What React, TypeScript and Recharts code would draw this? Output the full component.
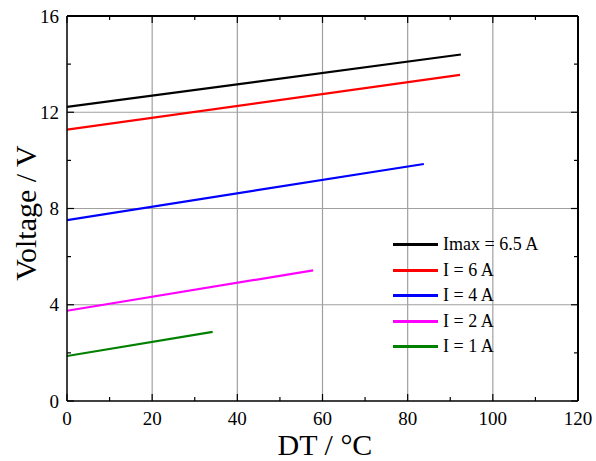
import { LineChart, Line, XAxis, YAxis, ReferenceLine } from "recharts";

const FONT = '"Liberation Serif", "Times New Roman", serif';

// DT (°C) and voltage endpoints per current
const seriesNames = ["Imax = 6.5 A", "I = 6 A", "I = 4 A", "I = 2 A", "I = 1 A"];
const seriesColors = ["#000000", "#ff0000", "#0000ff", "#ff00ff", "#008000"];
const dtImax = [0, 92.5];
const vImax = [12.22, 14.4];
const dtI6 = [0, 92.3];
const vI6 = [11.28, 13.55];
const dtI4 = [0, 83.8];
const vI4 = [7.52, 9.85];
const dtI2 = [0, 57.8];
const vI2 = [3.75, 5.43];
const dtI1 = [0, 34.2];
const vI1 = [1.87, 2.87];

const xTicks = [0, 10, 20, 30, 40, 50, 60, 70, 80, 90, 100, 110, 120];
const xMajor = [0, 20, 40, 60, 80, 100, 120];
const yTicks = [0, 2, 4, 6, 8, 10, 12, 14, 16];
const yMajor = [0, 4, 8, 12, 16];
const xGrid = [20, 40, 60, 80, 100];
const yGrid = [4, 8, 12];
const xMax = 120;
const yMax = 16;

const toPoints = (xs: number[], ys: number[]) => xs.map((x, i) => ({ dt: x, v: ys[i] }));
const series = [
  toPoints(dtImax, vImax),
  toPoints(dtI6, vI6),
  toPoints(dtI4, vI4),
  toPoints(dtI2, vI2),
  toPoints(dtI1, vI1),
];

const BottomTick = ({ x, y, payload }: any) => {
  const major = xMajor.includes(payload.value);
  return (
    <g>
      <line x1={x} x2={x} y1={y} y2={y - (major ? 7 : 4)} stroke="#000" strokeWidth={1.2} />
      {major && (
        <text x={x} y={y + 24} textAnchor="middle" fontSize={19} fontFamily={FONT} fill="#000">
          {payload.value}
        </text>
      )}
    </g>
  );
};

const TopTick = ({ x, y, payload }: any) => {
  const major = xMajor.includes(payload.value);
  return <line x1={x} x2={x} y1={y} y2={y + (major ? 7 : 4)} stroke="#000" strokeWidth={1.2} />;
};

const LeftTick = ({ x, y, payload }: any) => {
  const major = yMajor.includes(payload.value);
  return (
    <g>
      <line x1={x} x2={x + (major ? 7 : 4)} y1={y} y2={y} stroke="#000" strokeWidth={1.2} />
      {major && (
        <text x={x - 8} y={y} dy="0.35em" textAnchor="end" fontSize={19} fontFamily={FONT} fill="#000">
          {payload.value}
        </text>
      )}
    </g>
  );
};

const RightTick = ({ x, y, payload }: any) => {
  const major = yMajor.includes(payload.value);
  return <line x1={x} x2={x - (major ? 7 : 4)} y1={y} y2={y} stroke="#000" strokeWidth={1.2} />;
};

const LegendBox = () => (
  <div style={{ position: "absolute", left: 393, top: 232, fontFamily: FONT, fontSize: 18, color: "#000" }}>
    {seriesNames.map((name, i) => (
      <div key={name} style={{ display: "flex", alignItems: "center", height: 25.5, whiteSpace: "nowrap" }}>
        <span style={{ display: "inline-block", width: 45, height: 3, background: seriesColors[i], marginRight: 5 }} />
        <span>{name}</span>
      </div>
    ))}
  </div>
);

export default function App() {
  return (
    <div style={{ position: "absolute", left: 0, top: 0, width: 596, height: 461, background: "#fff" }}>
      <LineChart width={596} height={461} margin={{ top: 15, right: 17, left: 0, bottom: 0 }}>
        <XAxis
          xAxisId="b"
          type="number"
          dataKey="dt"
          domain={[0, xMax]}
          ticks={xTicks}
          interval={0}
          tickSize={0}
          tickMargin={0}
          tickLine={false}
          tick={<BottomTick />}
          height={60}
          axisLine={{ stroke: "#000", strokeWidth: 1.5 }}
          allowDataOverflow
          label={{
            content: () => (
              <text x={325} y={455} textAnchor="middle" fontSize={30} fontFamily={FONT} fill="#000">
                DT / °C
              </text>
            ),
          }}
        />
        <XAxis
          xAxisId="t"
          orientation="top"
          type="number"
          dataKey="dt"
          domain={[0, xMax]}
          ticks={xTicks}
          interval={0}
          tickSize={0}
          tickMargin={0}
          tickLine={false}
          tick={<TopTick />}
          height={1}
          allowDataOverflow
          axisLine={{ stroke: "#000", strokeWidth: 2 }}
        />
        <YAxis
          yAxisId="l"
          type="number"
          domain={[0, yMax]}
          ticks={yTicks}
          interval={0}
          tickSize={0}
          tickMargin={0}
          tickLine={false}
          tick={<LeftTick />}
          width={67}
          allowDataOverflow
          axisLine={{ stroke: "#000", strokeWidth: 1.5 }}
          label={{
            content: () => (
              <text
                x={25}
                y={213}
                transform="rotate(-90 25 213)"
                dy="0.35em"
                textAnchor="middle"
                fontSize={30}
                fontFamily={FONT}
                fill="#000"
              >
                Voltage / V
              </text>
            ),
          }}
        />
        <YAxis
          yAxisId="r"
          orientation="right"
          type="number"
          domain={[0, yMax]}
          ticks={yTicks}
          interval={0}
          tickSize={0}
          tickMargin={0}
          tickLine={false}
          tick={<RightTick />}
          width={1}
          allowDataOverflow
          axisLine={{ stroke: "#000", strokeWidth: 2 }}
        />
        {xGrid.map((v) => (
          <ReferenceLine key={"x" + v} x={v} xAxisId="b" yAxisId="l" stroke="#a0a0a0" strokeWidth={1.2} />
        ))}
        {yGrid.map((v) => (
          <ReferenceLine key={"y" + v} y={v} xAxisId="b" yAxisId="l" stroke="#a0a0a0" strokeWidth={1.2} />
        ))}
        {series.map((pts, i) => (
          <Line
            key={seriesNames[i]}
            xAxisId={i % 2 === 0 ? "b" : "t"}
            yAxisId={i % 2 === 0 ? "l" : "r"}
            data={pts}
            dataKey="v"
            name={seriesNames[i]}
            stroke={seriesColors[i]}
            strokeWidth={2.2}
            dot={false}
            isAnimationActive={false}
          />
        ))}
      </LineChart>
      <LegendBox />
    </div>
  );
}
